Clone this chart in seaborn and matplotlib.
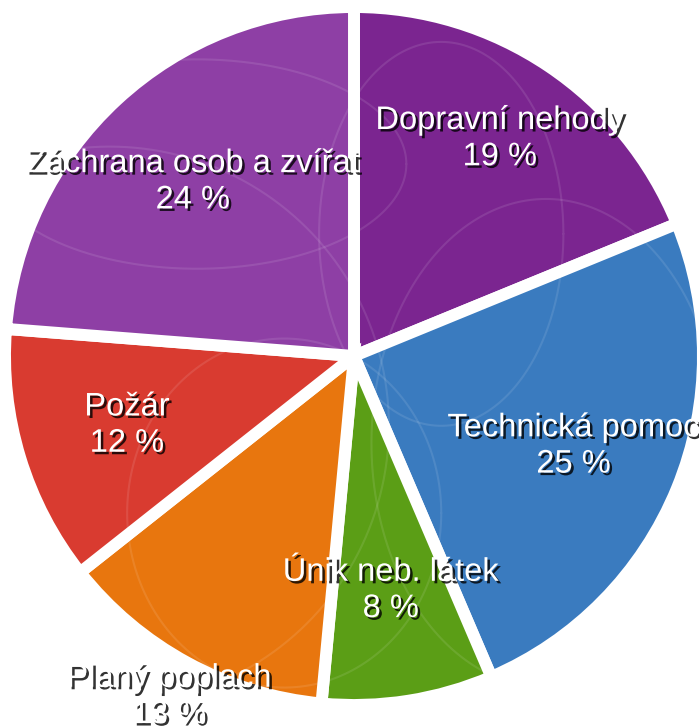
import numpy as np
import matplotlib
matplotlib.use("Agg")
import matplotlib.pyplot as plt
import matplotlib.patheffects as pe
import seaborn as sns

# Data (clockwise from 12 o'clock)
categories = ["Dopravní nehody", "Technická pomoc", "Únik neb. látek",
              "Planý poplach", "Požár", "Záchrana osob a zvířat"]
values = [19, 25, 8, 13, 12, 24]
value_labels = ["19 %", "25 %", "8 %", "13 %", "12 %", "24 %"]

# Style
colors = ["#7B2590", "#3A7BBF", "#5B9E16", "#E8760E", "#D93B30", "#8E3FA5"]
label_radius = [0.75, 0.68, 0.68, 1.11, 0.68, 0.68]

sns.set_theme(style="white")
plt.rcParams["font.family"] = ["Liberation Sans", "DejaVu Sans"]

fig = plt.figure(figsize=(6.99, 7.28), dpi=100)
ax = fig.add_axes([0, 0, 1, 1])
palette = sns.color_palette(colors)

wedges, _ = ax.pie(values, colors=palette, startangle=90, counterclock=False,
                   radius=1.0,
                   wedgeprops=dict(edgecolor="white", linewidth=8.6, antialiased=True))

# faint decorative texture inside the wedges
t = np.linspace(0, 2 * np.pi, 400)
curves = [
    (0.35 * np.cos(t) + 0.25, 0.55 * np.sin(t) + 0.35),
    (0.6 * np.cos(t) - 0.45, 0.3 * np.sin(t) + 0.55),
    (0.5 * np.cos(t) + 0.55, 0.7 * np.sin(t) - 0.25),
    (0.45 * np.cos(t) - 0.2, 0.5 * np.sin(t) - 0.45),
    (0.8 * np.cos(t) - 0.7, 0.8 * np.sin(t) - 0.2),
]
for w in wedges:
    for cx, cy in curves:
        ln, = ax.plot(cx, cy, color="white", alpha=0.10, lw=1.5)
        ln.set_clip_path(w)

total = sum(values)
ang = 90.0
shadow = [pe.SimplePatchShadow(offset=(1.8, -1.8), shadow_rgbFace="black", alpha=0.8),
          pe.Normal()]
for cat, v, lab, r in zip(categories, values, value_labels, label_radius):
    span = 360.0 * v / total
    mid = np.deg2rad(ang - span / 2)
    ang -= span
    x, y = r * np.cos(mid), r * np.sin(mid)
    ax.text(x, y, f"{cat}\n{lab}", ha="center", va="center", color="white",
            fontsize=23.5, linespacing=1.22, path_effects=shadow)

sc = 349.0
ax.set_aspect("equal")
ax.set_xlim(-354 / sc, 345 / sc)
ax.set_ylim(-372 / sc, 356 / sc)
ax.axis("off")

fig.savefig("out.png", dpi=100, facecolor="white")
